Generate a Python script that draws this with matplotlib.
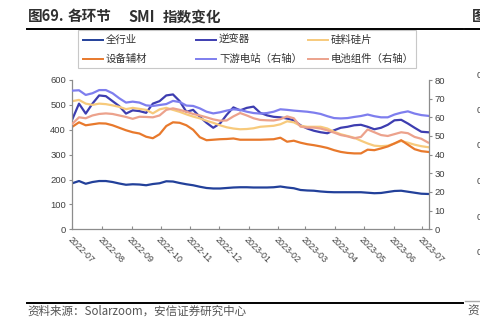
import matplotlib
matplotlib.use("Agg")
import matplotlib.pyplot as plt
from matplotlib.lines import Line2D
from matplotlib.patches import Rectangle
import pandas as pd

# ---------------- data ----------------
dates = pd.date_range("2022-07-01", periods=54, freq="7D")

all_industry = [185, 194, 183, 190, 194, 194, 190, 184, 179, 181,
                180, 177, 182, 185, 193, 192, 186, 181, 177, 171,
                166, 164, 164, 166, 168, 169, 169, 168, 168, 168,
                169, 172, 168, 165, 158, 156, 155, 152, 150, 149,
                149, 149, 149, 149, 147, 145, 146, 150, 154, 155,
                151, 147, 143, 142]
inverter = [442, 505, 465, 505, 538, 535, 515, 495, 465, 478,
            475, 468, 505, 515, 538, 542, 515, 472, 480, 452,
            428, 408, 425, 460, 490, 478, 488, 493, 468, 458,
            452, 450, 445, 438, 418, 405, 396, 390, 386, 398,
            408, 412, 418, 420, 412, 402, 408, 420, 438, 440,
            425, 408, 392, 390]
silicon = [515, 520, 505, 500, 505, 503, 498, 492, 483, 488,
           484, 480, 466, 482, 488, 480, 472, 462, 453, 446,
           436, 428, 418, 410, 405, 402, 403, 406, 412, 414,
           416, 422, 434, 430, 416, 412, 412, 412, 405, 392,
           382, 375, 368, 356, 345, 336, 334, 336, 345, 355,
           348, 340, 334, 330]
equipment = [412, 430, 418, 422, 426, 425, 418, 408, 398, 390,
             385, 372, 366, 382, 415, 430, 428, 418, 400, 370,
             358, 360, 362, 363, 365, 360, 360, 360, 360, 361,
             362, 368, 352, 356, 348, 342, 338, 333, 327, 318,
             311, 307, 305, 305, 320, 318, 325, 333, 345, 358,
             340, 322, 314, 311]
downstream = [74.3, 74.5, 72.0, 72.9, 74.6, 74.6, 72.9, 70.2, 67.9, 68.4,
              67.9, 66.4, 66.1, 66.6, 67.1, 68.8, 68.2, 66.3, 66.1, 64.8,
              63.0, 62.1, 62.7, 63.6, 64.3, 64.0, 63.0, 62.3, 62.0, 62.3,
              63.0, 64.3, 64.0, 63.6, 63.3, 63.0, 62.5, 61.8, 60.6, 59.6,
              59.4, 59.6, 60.2, 60.7, 61.5, 60.6, 60.0, 60.0, 61.5, 62.5,
              63.2, 62.0, 61.2, 60.8]
cell_module = [56.5, 60.0, 59.5, 61.0, 61.8, 62.1, 61.8, 61.0, 60.2, 59.2,
               60.3, 60.2, 60.0, 61.0, 64.0, 64.8, 64.0, 63.0, 61.8, 61.0,
               60.0, 58.9, 58.2, 58.3, 60.5, 62.3, 61.0, 59.5, 58.6, 58.4,
               58.3, 59.0, 60.5, 59.5, 55.0, 54.5, 54.5, 54.0, 53.0, 51.8,
               50.5, 49.8, 48.8, 49.5, 53.5, 52.0, 50.5, 50.0, 51.0, 52.0,
               51.5, 49.5, 48.5, 46.5]

month_ticks = pd.date_range("2022-07-01", "2023-07-01", freq="MS")
month_labels = [d.strftime("%Y-%m") for d in month_ticks]
left_ticks = [0, 100, 200, 300, 400, 500, 600]
right_ticks = [0, 10, 20, 30, 40, 50, 60, 70, 80]

names = ["全行业", "逆变器", "硅料硅片", "设备辅材", "下游电站（右轴）", "电池组件（右轴）"]
colors = ["#22409A", "#3D3DB0", "#F7CA7C", "#E8792C", "#7E7EEE", "#ECA28C"]

# ---------------- figure ----------------
W, H = 481, 334
CJK = ["Noto Sans CJK SC", "DejaVu Sans"]
NUM = ["Liberation Sans", "DejaVu Sans"]
plt.rcParams["font.family"] = CJK

fig = plt.figure(figsize=(W / 100, H / 100), dpi=100)


def fx(px):
    return px / W


def fy(py):
    return 1 - py / H


ax = fig.add_axes([fx(72.3), fy(229.3), (429 - 72.3) / W, (229.3 - 80) / H])
ax2 = ax.twinx()

lw = 1.6
ax.plot(dates, all_industry, color=colors[0], lw=lw)
ax.plot(dates, inverter, color=colors[1], lw=lw)
ax.plot(dates, silicon, color=colors[2], lw=lw)
ax.plot(dates, equipment, color=colors[3], lw=lw)
ax2.plot(dates, downstream, color=colors[4], lw=lw)
ax2.plot(dates, cell_module, color=colors[5], lw=lw)

ax.set_xlim(dates[0], pd.Timestamp("2023-07-08"))
ax.set_ylim(0, 600)
ax2.set_ylim(0, 80)
ax.set_yticks(left_ticks)
ax2.set_yticks(right_ticks)
ax.set_xticks(month_ticks)
ax.set_xticklabels(month_labels, rotation=-45, ha="left", va="top",
                   rotation_mode="anchor", fontsize=6.4, family=NUM,
                   color="#404040")

spine_c = "#8c8c8c"
for a in (ax, ax2):
    a.spines["top"].set_visible(False)
    for s in a.spines.values():
        s.set_color(spine_c)
        s.set_linewidth(0.9)
ax.spines["right"].set_visible(False)
ax2.spines["left"].set_visible(False)
ax2.spines["bottom"].set_visible(False)

ax.tick_params(axis="y", direction="out", length=2.5, width=0.8, color=spine_c,
               labelsize=6.8, labelcolor="#404040", pad=2, labelfontfamily=NUM)
ax2.tick_params(axis="y", direction="out", length=2.5, width=0.8, color=spine_c,
                labelsize=6.8, labelcolor="#404040", pad=1.5, labelfontfamily=NUM)
ax.tick_params(axis="x", direction="in", length=2.5, width=0.8, color=spine_c, pad=4)

# ---------------- title ----------------
tkw = dict(fontsize=10.5, fontweight="bold", color="#303030", va="center", ha="left")
fig.text(fx(28), fy(16.5), "图69.", **tkw)
fig.text(fx(68), fy(16.5), "各环节", **tkw)
fig.text(fx(128), fy(16.5), "SMI", **tkw)
fig.text(fx(163), fy(16.5), "指数变化", **tkw)
fig.text(fx(472), fy(16.5), "图", **tkw)
fig.add_artist(Line2D([fx(27), fx(463)], [fy(28.5), fy(28.5)], color="black", lw=1.4))
fig.add_artist(Line2D([fx(465), fx(481)], [fy(28.5), fy(28.5)], color="black", lw=1.4))

# ---------------- legend ----------------
fig.add_artist(Rectangle((fx(78.3), fy(68.3)), (416 - 78.3) / W, (68.3 - 29.5) / H,
                         transform=fig.transFigure, facecolor="white",
                         edgecolor="#c8c8c8", lw=0.8))
col_x = [83, 196, 308]
row_y = [40, 59.3]
order = [(0, 0, 0), (1, 0, 1), (2, 0, 2), (3, 1, 0), (4, 1, 1), (5, 1, 2)]
for idx, r, c in order:
    x0 = col_x[c]
    y0 = row_y[r]
    fig.add_artist(Line2D([fx(x0), fx(x0 + 20)], [fy(y0), fy(y0)],
                          color=colors[idx], lw=1.4))
    fig.text(fx(x0 + 23), fy(y0), names[idx], fontsize=7.5, color="#333333",
             va="center", ha="left")

# ---------------- source ----------------
fig.add_artist(Line2D([fx(27), fx(463)], [fy(303.3), fy(303.3)], color="black", lw=1.4))
fig.add_artist(Line2D([fx(465), fx(481)], [fy(300.5), fy(300.5)], color="#aaaaaa", lw=1.0))
fig.text(fx(27), fy(311), "资料来源：Solarzoom，安信证券研究中心", fontsize=8.3,
         style="italic", color="#555555", va="center", ha="left")
fig.text(fx(467), fy(311), "资", fontsize=8.3, style="italic", color="#555555",
         va="center", ha="left")

# clipped tick labels of the neighbouring chart at the right edge
for yy in [75, 110.5, 146, 181.6, 217, 252.6]:
    fig.text(fx(476.5), fy(yy), "0", fontsize=6.8, color="#404040",
             va="center", ha="left", family=NUM)

fig.savefig("out.png", dpi=100)
